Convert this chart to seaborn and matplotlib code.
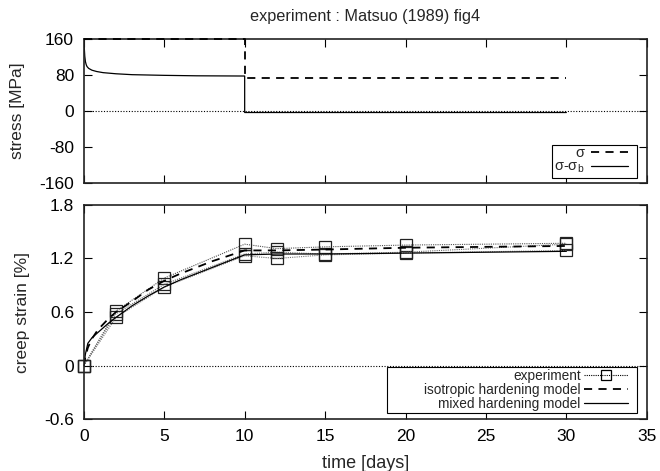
import numpy as np
import pandas as pd
import matplotlib
matplotlib.use("Agg")
import matplotlib.pyplot as plt
import seaborn as sns
from matplotlib.lines import Line2D
from matplotlib.patches import Rectangle

# ---- data ----
t_sigma = [0, 10, 10, 30]
sigma = [160, 160, 74, 74]

t_eff = [0, 0.03, 0.06, 0.1, 0.15, 0.2, 0.3, 0.5, 0.8, 1.2, 2, 3, 5, 7, 10, 10, 30]
sigma_eff = [160, 140, 122, 110, 103, 99, 95, 91, 88, 85.5, 83, 81, 79.5, 78.5, 78, -3, -3]

t_exp = [0, 2, 5, 10, 12, 15, 20, 30]
exp_a = [0, 0.61, 0.98, 1.36, 1.31, 1.33, 1.35, 1.37]
exp_b = [0, 0.58, 0.91, 1.25, 1.27, 1.25, 1.27, 1.36]
exp_c = [0, 0.54, 0.88, 1.23, 1.20, 1.24, 1.26, 1.29]

t_model = [0, 0.1, 0.25, 0.5, 0.87, 1.5, 2, 3, 4, 5, 6, 8, 10, 12, 15, 20, 25, 30]
iso = [0, 0.10, 0.20, 0.30, 0.40, 0.52, 0.60, 0.72, 0.85, 0.95, 1.03, 1.17, 1.29, 1.29, 1.30, 1.32, 1.33, 1.34]
mixed = [0, 0.13, 0.25, 0.31, 0.37, 0.47, 0.54, 0.67, 0.78, 0.88, 0.96, 1.10, 1.24, 1.25, 1.25, 1.26, 1.27, 1.28]

stress_ticks = [-160, -80, 0, 80, 160]
strain_ticks = [-0.6, 0, 0.6, 1.2, 1.8]
strain_labels = ["-0.6", "0", "0.6", "1.2", "1.8"]
time_ticks = [0, 5, 10, 15, 20, 25, 30, 35]

# ---- style ----
sns.set_style("ticks")
plt.rcParams["font.family"] = ["Liberation Sans", "DejaVu Sans"]
plt.rcParams["mathtext.fontset"] = "custom"
plt.rcParams["mathtext.rm"] = "Liberation Sans"
plt.rcParams["mathtext.it"] = "Liberation Sans"
plt.rcParams["axes.unicode_minus"] = False
FS = 12.5
DASH = (0, (4.5, 3.5))

fig = plt.figure(figsize=(6.6, 4.71), dpi=100)
ax1 = fig.add_axes([0.127, 0.611, 0.853, 0.306])
ax2 = fig.add_axes([0.127, 0.110, 0.853, 0.455])

for ax in (ax1, ax2):
    ax.tick_params(direction="in", top=True, right=True, length=6, width=0.8,
                   labelsize=FS, colors="black", pad=7)
    for s in ax.spines.values():
        s.set_linewidth(1.2)
        s.set_color("#222222")
    ax.axhline(0, ls=(0, (1, 1.5)), lw=0.8, color="black")
    ax.set_xlim(0, 35)
    ax.set_xticks(time_ticks)

# top panel
sns.lineplot(x=t_sigma, y=sigma, ax=ax1, estimator=None, sort=False,
             color="black", lw=1.3, linestyle=DASH, zorder=5, clip_on=False)
sns.lineplot(x=t_eff, y=sigma_eff, ax=ax1, estimator=None, sort=False,
             color="black", lw=0.9)
ax1.set_ylim(-160, 160)
ax1.set_yticks(stress_ticks)
ax1.set_yticklabels([str(v) for v in stress_ticks])
ax1.set_xticklabels([])
ax1.set_ylabel("stress [MPa]", fontsize=FS, labelpad=10)
ax1.set_title("experiment : Matsuo (1989) fig4", fontsize=11.7, pad=13)
h1 = [Line2D([], [], color="black", lw=1.3, ls=DASH),
      Line2D([], [], color="black", lw=0.9)]
leg1 = ax1.legend(h1, ["σ", "σ-σ$_\\mathregular{b}$"], loc="lower right",
                  bbox_to_anchor=(0.966, 0.055), markerfirst=False, frameon=False,
                  fontsize=10.5, handlelength=2.5, borderpad=0, labelspacing=0.0,
                  handletextpad=0.45, borderaxespad=0)
ax1.add_patch(Rectangle((0.831, 0.035), 0.151, 0.229, transform=ax1.transAxes,
                        fill=True, facecolor="white", edgecolor="black", lw=0.8, zorder=4))
leg1.set_zorder(6)

# bottom panel
for ys, col in ((exp_a, "#555555"), (exp_b, "#666666"), (exp_c, "#777777")):
    sns.lineplot(x=t_exp, y=ys, ax=ax2, estimator=None, sort=False, color=col,
                 lw=0.8, linestyle=(0, (1, 1)), marker="s", markersize=8,
                 markerfacecolor="none", markeredgecolor="#222222", markeredgewidth=0.9,
                 clip_on=False)
sns.lineplot(x=t_model, y=iso, ax=ax2, estimator=None, sort=False,
             color="black", lw=1.3, linestyle=DASH)
sns.lineplot(x=t_model, y=mixed, ax=ax2, estimator=None, sort=False,
             color="black", lw=0.9)
ax2.set_ylim(-0.6, 1.8)
ax2.set_yticks(strain_ticks)
ax2.set_yticklabels(strain_labels)
ax2.set_xticklabels([str(t) for t in time_ticks])
ax2.set_ylabel("creep strain [%]", fontsize=FS, labelpad=10)
ax2.set_xlabel("time [days]", fontsize=13, labelpad=8)
h2 = [Line2D([], [], color="black", lw=0.8, ls=(0, (1, 1)), marker="s", markersize=7,
             markerfacecolor="none", markeredgewidth=0.9),
      Line2D([], [], color="black", lw=1.3, ls=DASH),
      Line2D([], [], color="black", lw=0.9)]
leg2 = ax2.legend(h2, ["experiment", "isotropic hardening model", "mixed hardening model"],
                  loc="lower right", bbox_to_anchor=(0.966, 0.04), markerfirst=False,
                  frameon=False, fontsize=9.8, handlelength=3.2, borderpad=0,
                  labelspacing=0.0, handletextpad=0.25, borderaxespad=0)
ax2.add_patch(Rectangle((0.538, 0.028), 0.444, 0.215, transform=ax2.transAxes,
                        fill=True, facecolor="white", edgecolor="black", lw=0.8, zorder=4))
leg2.set_zorder(6)

fig.savefig("out.png", dpi=100)
